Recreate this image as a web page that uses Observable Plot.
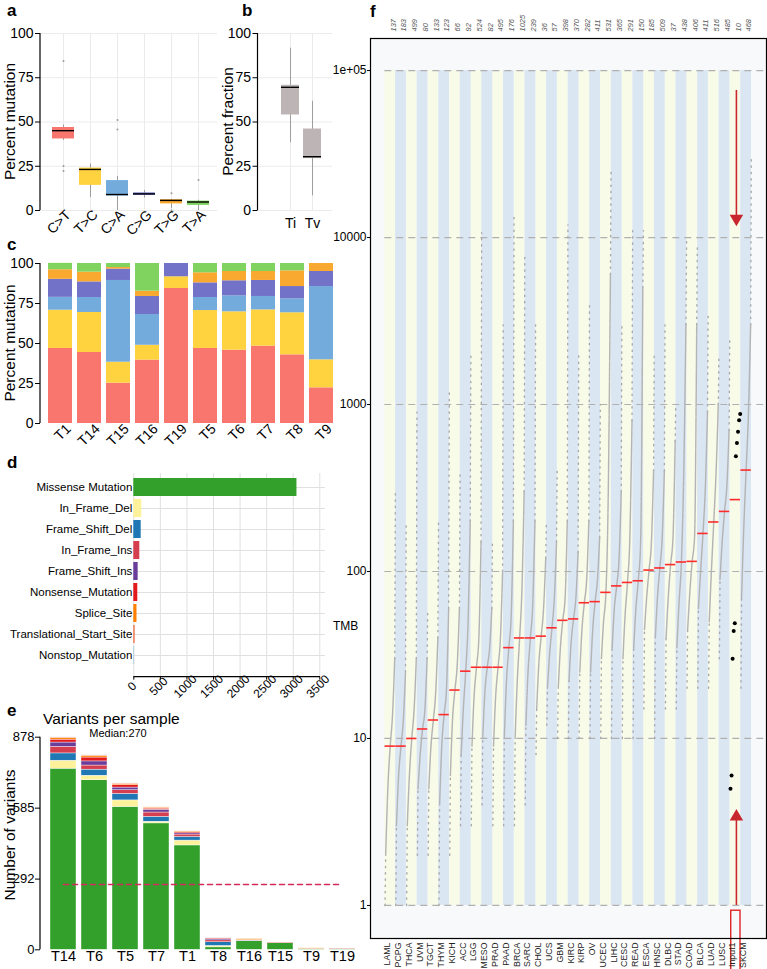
<!DOCTYPE html>
<html><head><meta charset="utf-8">
<script src="https://cdn.jsdelivr.net/npm/d3@7"></script>
<script src="https://cdn.jsdelivr.net/npm/@observablehq/plot@0.6"></script>
<style>
body{margin:0;background:#fff;font-family:"Liberation Sans",Arial,sans-serif;}
#root{position:relative;width:767px;height:969px;overflow:hidden;background:#fff;}
</style></head><body><div id="root"></div>
<script>
// ---------- panel c (and derived a, b) ----------
const mutClasses = ["C>T","T>C","C>A","C>G","T>G","T>A"];
const mutColors = ["#F8766D","#FFD23F","#73ABDC","#7272C8","#F9A930","#80D35F"];
const samplesC = ["T1","T14","T15","T16","T19","T5","T6","T7","T8","T9"];
const pctCT = [46.9,44.4,25.2,39.6,84.4,46.9,45.8,48.3,42.9,22.3];
const pctTC = [23.9,25.0,13.1,9.3,7.3,23.7,24.0,22.7,26.3,17.5];
const pctCA = [8.05,9.35,51.1,19.2,0,8.15,10.0,8.4,8.7,45.8];
const pctCG = [11.25,9.75,7.1,11.3,8.3,9.15,9.4,10.0,7.7,9.4];
const pctTG = [6.0,6.1,1.0,3.3,0,6.3,5.8,5.6,9.8,5.0];
const pctTA = [4.0,5.4,2.5,17.3,0,5.8,5.0,5.0,4.6,0];
const percentTicks = [0,25,50,75,100];
const titvClasses = ["Ti","Tv"];
const titvColor = "#BDB5B5";

// ---------- panel d ----------
const variantLabels = ["Missense Mutation","In_Frame_Del","Frame_Shift_Del","In_Frame_Ins","Frame_Shift_Ins","Nonsense_Mutation","Splice_Site","Translational_Start_Site","Nonstop_Mutation"];
const variantColors = ["#33A02C","#FDF29B","#1F78B4","#D53E4F","#6A3D9A","#E31A1C","#FF7F00","#F46D43","#A6CEE3"];
const variantTotals = [3070,150,139,113,82,75,60,25,15];
const dTicks = [0,500,1000,1500,2000,2500,3000,3500];

// ---------- panel e ----------
const samplesE = ["T14","T6","T5","T7","T1","T8","T16","T15","T9","T19"];
const nMissense = [748,700,590,522,431,10,36,27,3,3];
const nInFrameDel = [33,19,27,7,20,6,0,0,0,0];
const nFrameShiftDel = [30,25,27,20,15,15,1,0,0,0];
const nInFrameIns = [27,17,15,18,10,8,1,2,0,1];
const nFrameShiftIns = [18,17,11,11,5,5,1,0,0,0];
const nNonsense = [12,16,10,5,5,3,1,1,1,1];
const nSplice = [7,7,5,4,3,1,4,0,2,0];
const nTransStart = [2,2,2,1,1,0,0,0,0,0];
const nNonstop = [1,2,1,0,0,1,0,0,0,0];
const eTicks = [0,292,585,878];

// ---------- panel f ----------
const cohorts = ["LAML","PCPG","THCA","UVM","TGCT","THYM","KICH","ACC","LGG","MESO","PRAD","PAAD","BRCA","SARC","CHOL","UCS","GBM","KIRC","KIRP","OV","UCEC","LIHC","CESC","READ","ESCA","HNSC","DLBC","STAD","COAD","BLCA","LUAD","LUSC","Input1","SKCM"];
const cohortSizes = [137,183,499,80,133,123,66,92,524,82,495,176,1025,239,36,57,398,370,282,411,531,365,291,150,185,509,37,438,406,411,516,485,10,468];
const tcgaCohorts = ["LAML","PCPG","THCA","UVM","TGCT","THYM","KICH","ACC","LGG","MESO","PRAD","PAAD","BRCA","SARC","CHOL","UCS","GBM","KIRC","KIRP","OV","UCEC","LIHC","CESC","READ","ESCA","HNSC","DLBC","STAD","COAD","BLCA","LUAD","LUSC","SKCM"];
const tcgaMin    = [1,1,1,2,2,1,2,3,3,4,3,3,3,4,8,12,10,10,10,10,10,10,10,10,15,10,15,15,20,20,20,30,20];
const tcgaP05    = [2,3,3,5,5,4,6,8,9,10,9,10,10,12,15,20,20,22,25,25,30,35,30,35,45,40,40,35,45,60,50,90,70];
const tcgaP25    = [5,6,6,8,9,9,13,15,18,19,18,22,22,25,28,32,35,38,45,45,50,60,55,60,70,70,70,65,75,100,100,150,180];
const tcgaMedian = [9.0,9.0,10.0,11.4,12.9,13.9,19.5,25.3,26.7,26.7,26.7,35,40,40,41,46,51,52,65,66,75,82,86,88,102,105,110,114,115,169,198,229,405];
const tcgaP75    = [14,13,15,15,19,20,28,50,40,35,40,55,80,65,60,70,70,70,90,90,300,120,160,150,150,160,160,400,160,320,400,330,900];
const tcgaP95    = [30,25,30,30,40,60,60,200,150,60,100,200,300,200,120,150,200,130,200,160,6000,300,800,5000,400,400,600,3000,3000,900,1000,700,3000];
const tcgaMax    = [300,200,900,60,200,1200,400,2000,10700,150,3000,13900,8000,3000,200,400,11900,2000,4000,1000,24800,3000,11000,11000,2000,3000,1000,9700,9000,3550,2000,2400,30500];
const fTicks = [1,10,100,1000,10000,100000];
const fTickLabels = ["1","10","100","1000","10000","1e+05"];
const arrowsF = [{cohort:"Input1", from:76000, to:13000, dir:"down"},{cohort:"Input1", from:1.0, to:3.4, dir:"up"}];
const highlightF = [{cohort:"Input1", top:0.93, bottom:0.38}];

// ---------- helpers ----------
const root = document.getElementById("root");
const FONT = "Liberation Sans, Arial, sans-serif";
const baseStyle = {fontFamily: FONT, background: "none", overflow: "visible", color: "black"};
function place(svg, left, top) {
  svg.style.position = "absolute"; svg.style.left = left + "px"; svg.style.top = top + "px";
  root.appendChild(svg); return svg;
}
function line(svg, x1, y1, x2, y2, w = 1.2) {
  d3.select(svg).append("line").attr("x1", x1).attr("y1", y1).attr("x2", x2).attr("y2", y2)
    .attr("stroke", "black").attr("stroke-width", w);
}
function boxStats(cls, values) {
  const v = values.slice().sort(d3.ascending);
  const q1 = d3.quantileSorted(v, 0.25), med = d3.quantileSorted(v, 0.5), q3 = d3.quantileSorted(v, 0.75);
  const f = 1.5 * (q3 - q1);
  const inside = v.filter(d => d >= q1 - f && d <= q3 + f);
  return {cls, q1, med, q3, lo: d3.min(inside), hi: d3.max(inside),
    out: v.filter(d => d < q1 - f || d > q3 + f).map(y => ({cls, y}))};
}

// ---------- panel a ----------
const pctByClass = [pctCT, pctTC, pctCA, pctCG, pctTG, pctTA];
const statsA = mutClasses.map((c, k) => boxStats(c, pctByClass[k]));
const svgA = Plot.plot({
  width: 225, height: 245, marginTop: 33, marginBottom: 35, marginLeft: 40, marginRight: 8,
  style: baseStyle,
  x: {domain: mutClasses, range: [43.6, 216.4], padding: 0.2},
  y: {domain: [0, 100]},
  color: {domain: mutClasses, range: mutColors},
  marks: [
    Plot.gridY(percentTicks, {stroke: "#ebebeb", strokeOpacity: 1}),
    Plot.gridX({stroke: "#ebebeb", strokeOpacity: 1}),
    Plot.ruleX(statsA, {x: "cls", y1: "lo", y2: "hi", stroke: "#8a8a8a", strokeWidth: 0.8}),
    Plot.barY(statsA, {x: "cls", y1: "q1", y2: "q3", fill: "cls"}),
    Plot.tickY(statsA, {x: "cls", y: "med", stroke: "black", strokeWidth: 1.4}),
    Plot.dot(statsA.flatMap(s => s.out), {x: "cls", y: "y", r: 1, fill: "#9a9a9a"}),
    Plot.axisY(percentTicks, {tickSize: 5, tickPadding: 2, fontSize: 14, label: null}),
    Plot.axisX({tickRotate: -45, tickSize: 0, tickPadding: 2, fontSize: 14, dx: 5, label: null})
  ]
});
place(svgA, 0, 0); line(svgA, 40, 33, 40, 210);

// ---------- panel b ----------
const tiVals = samplesC.map((s, i) => pctCT[i] + pctTC[i]);
const tvVals = samplesC.map((s, i) => pctCA[i] + pctCG[i] + pctTG[i] + pctTA[i]);
const statsB = [boxStats("Ti", tiVals), boxStats("Tv", tvVals)];
const svgB = Plot.plot({
  width: 120, height: 245, marginTop: 33, marginBottom: 35, marginLeft: 37.5, marginRight: 8,
  style: baseStyle,
  x: {domain: titvClasses, range: [55.5, 105.5], padding: 0.2},
  y: {domain: [0, 100]},
  marks: [
    Plot.gridY(percentTicks, {stroke: "#ebebeb", strokeOpacity: 1}),
    Plot.gridX({stroke: "#ebebeb", strokeOpacity: 1}),
    Plot.ruleX(statsB, {x: "cls", y1: "lo", y2: "hi", stroke: "#8a8a8a", strokeWidth: 0.8}),
    Plot.barY(statsB, {x: "cls", y1: "q1", y2: "q3", fill: titvColor}),
    Plot.tickY(statsB, {x: "cls", y: "med", stroke: "black", strokeWidth: 1.4}),
    Plot.dot(statsB.flatMap(s => s.out), {x: "cls", y: "y", r: 1, fill: "#9a9a9a"}),
    Plot.axisY(percentTicks, {tickSize: 5, tickPadding: 2, fontSize: 14, label: null}),
    Plot.axisX({tickSize: 0, tickPadding: 8, fontSize: 14, label: null})
  ]
});
place(svgB, 220, 0); line(svgB, 37.5, 33, 37.5, 210);

// ---------- panel c ----------
const rowsC = mutClasses.flatMap((c, k) => samplesC.map((s, i) => ({sample: s, cls: c, pct: pctByClass[k][i]})));
const svgC = Plot.plot({
  width: 345, height: 215, marginTop: 23, marginBottom: 32, marginLeft: 40, marginRight: 5,
  style: baseStyle,
  x: {domain: samplesC, range: [40.9, 339.8], padding: 0.16},
  y: {domain: [0, 100]},
  color: {domain: mutClasses, range: mutColors},
  marks: [
    Plot.barY(rowsC, {x: "sample", y: "pct", fill: "cls"}),
    Plot.axisY(percentTicks, {tickSize: 5, tickPadding: 2, fontSize: 14, label: null}),
    Plot.axisX({tickRotate: -45, tickSize: 0, tickPadding: 3, fontSize: 14, dx: 8, label: null})
  ]
});
place(svgC, 0, 240); line(svgC, 40, 23, 40, 183);

// ---------- panel d ----------
const rowsD = variantLabels.map((c, k) => ({cls: c, n: variantTotals[k]}));
const svgD = Plot.plot({
  width: 345, height: 245, marginTop: 13, marginBottom: 28.3, marginLeft: 133.3, marginRight: 20,
  style: baseStyle,
  x: {domain: [0, 3500], range: [133.3, 319.3]},
  y: {domain: variantLabels, range: [14, 209], padding: 0.12},
  color: {domain: variantLabels, range: variantColors},
  marks: [
    Plot.gridX(dTicks, {stroke: "#e0e0e0", strokeOpacity: 1}),
    Plot.gridY({stroke: "#e0e0e0", strokeOpacity: 1}),
    Plot.barX(rowsD, {y: "cls", x: "n", fill: "cls"}),
    Plot.axisY({tickSize: 0, tickPadding: 1.5, fontSize: 11.5, label: null}),
    Plot.axisX(dTicks, {tickSize: 3, tickFormat: () => "", label: null}),
    Plot.text(dTicks, {x: d => d, text: d => String(d), frameAnchor: "bottom", dy: 12, dx: 1, rotate: -45, textAnchor: "middle", fontSize: 12})
  ]
});
place(svgD, 0, 460); line(svgD, 133.3, 216.7, 320, 216.7);

// ---------- panel e ----------
const eCounts = [nMissense, nInFrameDel, nFrameShiftDel, nInFrameIns, nFrameShiftIns, nNonsense, nSplice, nTransStart, nNonstop];
const rowsE = variantLabels.flatMap((c, k) => samplesE.map((s, i) => ({sample: s, cls: c, n: eCounts[k][i]})));
const totals = samplesE.map((s, i) => d3.sum(eCounts, arr => arr[i]));
const medianVariants = d3.median(totals);
const svgE = Plot.plot({
  width: 365, height: 269, marginTop: 36.7, marginBottom: 19.7, marginLeft: 40, marginRight: 4,
  style: baseStyle,
  x: {domain: samplesE, range: [44.9, 360.8], padding: 0.155},
  y: {domain: [0, d3.max(eTicks)]},
  color: {domain: variantLabels, range: variantColors},
  marks: [
    Plot.barY(rowsE, {x: "sample", y: "n", fill: "cls", stroke: "white", strokeWidth: 0.4}),
    Plot.lineY(samplesE, {x: d => d, y: () => medianVariants, stroke: "#D42A5B", strokeWidth: 1.5, strokeDasharray: "5,4"}),
    Plot.axisY(eTicks, {tickSize: 5, tickPadding: 1, fontSize: 13, label: null}),
    Plot.axisX({tickSize: 0, tickPadding: 1, fontSize: 14.5, label: null})
  ]
});
place(svgE, 0, 700); line(svgE, 40, 36.7, 40, 249.3);

// ---------- panel f ----------
const colIdx = name => cohorts.indexOf(name);
const fracs = [0.02, 0.08, 0.28, 0.5, 0.72, 0.92, 0.98];
const qOf = j => [tcgaMin[j], tcgaP05[j], tcgaP25[j], tcgaMedian[j], tcgaP75[j], tcgaP95[j], tcgaMax[j]];
const coreRows = tcgaCohorts.flatMap((name, j) =>
  qOf(j).slice(1, 6).map((v, k) => ({cohort: name, x: colIdx(name) + fracs[k + 1], y: v})));
const tailRows = tcgaCohorts.flatMap((name, j) => {
  const q = qOf(j), i = colIdx(name);
  return [
    {grp: name + "lo", x: i + fracs[0], y: q[0]}, {grp: name + "lo", x: i + fracs[1], y: q[1]},
    {grp: name + "hi", x: i + fracs[5], y: q[5]}, {grp: name + "hi", x: i + fracs[6], y: q[6]}
  ];
});
const medianRows = tcgaCohorts.map((name, j) => ({i: colIdx(name), m: tcgaMedian[j]}))
  .concat([{i: colIdx("Input1"), m: medianVariants}]);
const inputSorted = totals.slice().sort(d3.ascending);
const inputDots = inputSorted.map((v, r) => ({x: colIdx("Input1") + (r + 0.5) / inputSorted.length, y: v}));
const fX0 = -1.327, fX1 = 35.39;
const stripes = cohorts.map((c, i) => ({i}));
const svgF = Plot.plot({
  width: 447, height: 969, marginTop: 38, marginBottom: 31, marginLeft: 50, marginRight: 1,
  style: baseStyle,
  x: {type: "linear", domain: [fX0, fX1], axis: null},
  y: {type: "log", domain: [0.634, 155600], axis: null},
  marks: [
    Plot.frame({fill: "#f7f9fa", stroke: null}),
    Plot.rect(stripes.filter(d => d.i % 2 === 0), {x1: d => d.i, x2: d => d.i + 1, y1: fTicks[0], y2: fTicks[fTicks.length - 1], fill: "#f9fbe9"}),
    Plot.rect(stripes.filter(d => d.i % 2 === 1), {x1: d => d.i, x2: d => d.i + 1, y1: fTicks[0], y2: fTicks[fTicks.length - 1], fill: "#dbe6f3"}),
    Plot.ruleY(fTicks, {x1: 0, x2: fX1, stroke: "#b0b0b0", strokeWidth: 1.2, strokeDasharray: "7,5"}),
    Plot.line(tailRows, {x: "x", y: "y", z: "grp", stroke: "#a9a9a9", strokeWidth: 1.4, strokeDasharray: "1.3,5"}),
    Plot.line(coreRows, {x: "x", y: "y", z: "cohort", curve: "monotone-x", stroke: "#b4b4b4", strokeWidth: 1.5, strokeDasharray: "1.5,0.8"}),
    Plot.ruleY(medianRows, {x1: d => d.i + 0.02, x2: d => d.i + 0.98, y: "m", stroke: "#ff2a2a", strokeWidth: 1.6}),
    Plot.dot(inputDots, {x: "x", y: "y", r: 2, fill: "black"}),
    Plot.ruleX(arrowsF, {x: d => colIdx(d.cohort) + 0.6, y1: "from", y2: "to", stroke: "#c8282d", strokeWidth: 1.6}),
    Plot.dot(arrowsF.filter(d => d.dir === "down"), {x: d => colIdx(d.cohort) + 0.6, y: "to", symbol: "triangle", r: 5, fill: "#c8282d", rotate: 180}),
    Plot.dot(arrowsF.filter(d => d.dir === "up"), {x: d => colIdx(d.cohort) + 0.6, y: "to", symbol: "triangle", r: 5, fill: "#c8282d"}),
    Plot.rect(highlightF, {x1: d => colIdx(d.cohort) + 0.12, x2: d => colIdx(d.cohort) + 0.98, y1: "top", y2: "bottom", fill: "none", stroke: "#e02424", strokeWidth: 1.4}),
    Plot.frame({stroke: "black", strokeWidth: 1.2}),
    Plot.axisY(fTicks, {tickFormat: d => fTickLabels[fTicks.indexOf(d)], tickSize: 3, tickPadding: 1, fontSize: 12, label: null}),
    Plot.text(cohorts, {x: (d, i) => i + 0.5, text: (d, i) => String(cohortSizes[i]), frameAnchor: "top", dy: -7, rotate: -90, textAnchor: "start", fontStyle: "italic", fontSize: 7.5, fill: "#555"}),
    Plot.text(cohorts, {x: (d, i) => i + 0.5, text: d => d, frameAnchor: "bottom", dy: 4, rotate: -90, textAnchor: "end", fontSize: 8.8, fill: "#222"})
  ]
});
place(svgF, 320, 0);

// ---------- free text overlay ----------
const ov = d3.select(root).append("svg").attr("width", 767).attr("height", 969)
  .style("position", "absolute").style("left", "0px").style("top", "0px").style("pointer-events", "none")
  .attr("font-family", FONT);
const letters = [["a",7,16],["b",242,16],["c",7,250],["d",7,468],["e",7,716],["f",370,17]];
letters.forEach(([t, x, y]) => ov.append("text").attr("x", x).attr("y", y).attr("font-size", 17).attr("font-weight", "bold").text(t));
const yLabels = [["Percent mutation",15,121.5],["Percent fraction",233,121.5],["Percent mutation",15,343],["Number of variants",15,835]];
yLabels.forEach(([t, x, y]) => ov.append("text").attr("transform", `translate(${x},${y}) rotate(-90)`).attr("text-anchor", "middle").attr("font-size", 15.5).text(t));
ov.append("text").attr("x", 333).attr("y", 630).attr("font-size", 12).text("TMB");
ov.append("text").attr("x", 43).attr("y", 723.5).attr("font-size", 15.5).text("Variants per sample");
ov.append("text").attr("x", 118).attr("y", 737).attr("text-anchor", "middle").attr("font-size", 11).text("Median:" + Math.round(medianVariants));
</script></body></html>
